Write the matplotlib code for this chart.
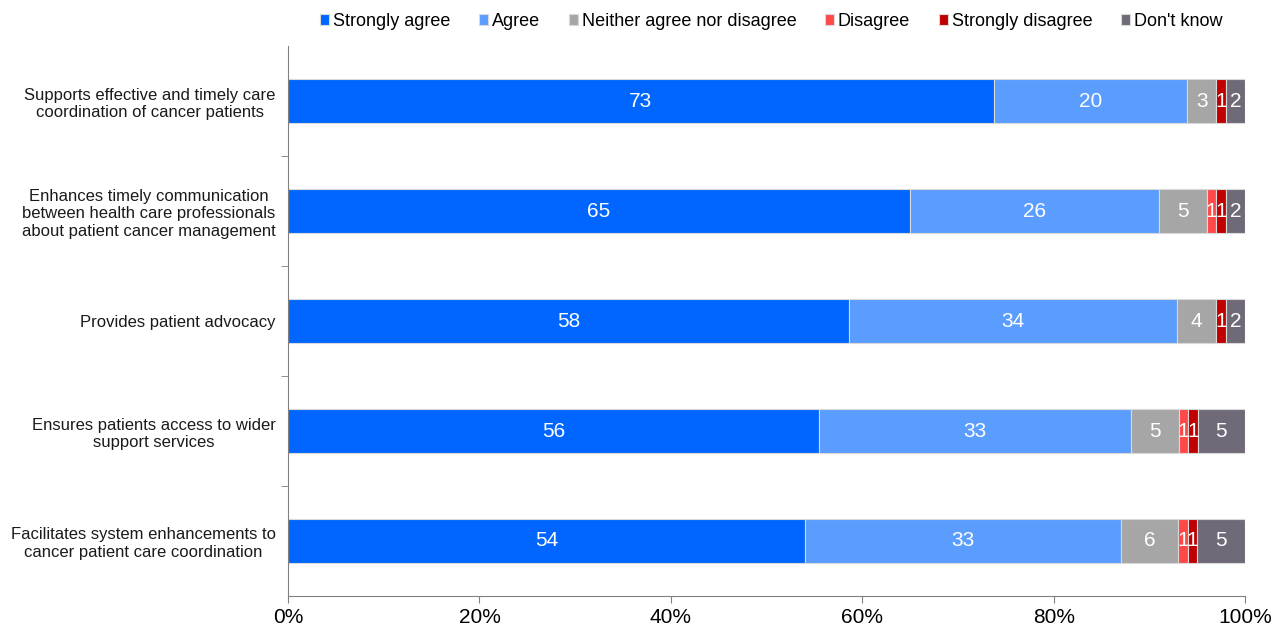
import numpy as np
import matplotlib
matplotlib.use("Agg")
import matplotlib.pyplot as plt

plt.rcParams['font.family'] = ['Liberation Sans', 'DejaVu Sans']

categories = [
    "Supports effective and timely care\ncoordination of cancer patients",
    "Enhances timely communication\nbetween health care professionals\nabout patient cancer management",
    "Provides patient advocacy",
    "Ensures patients access to wider\nsupport services",
    "Facilitates system enhancements to\ncancer patient care coordination",
]
series = ["Strongly agree", "Agree", "Neither agree nor disagree",
          "Disagree", "Strongly disagree", "Don't know"]
strongly_agree = [73, 65, 58, 56, 54]
agree = [20, 26, 34, 33, 33]
neither = [3, 5, 4, 5, 6]
disagree = [0, 1, 0, 1, 1]
strongly_disagree = [1, 1, 1, 1, 1]
dont_know = [2, 2, 2, 5, 5]
colors = ["#0066FF", "#5B9CFF", "#A6A6A6", "#FF4949", "#C00000", "#706A78"]

data = np.array([strongly_agree, agree, neither, disagree,
                 strongly_disagree, dont_know], dtype=float)
totals = data.sum(axis=0)
shares = data / totals * 100

fig, ax = plt.subplots(figsize=(12.83, 6.31), dpi=100)
fig.subplots_adjust(left=0.2245, right=0.9705, top=0.927, bottom=0.0555)

y = np.arange(len(categories))
left = np.zeros(len(categories))
for i, name in enumerate(series):
    ax.barh(y, shares[i], left=left, height=0.4, color=colors[i],
            edgecolor="#D9D9D9", linewidth=0.8, label=name)
    for j in range(len(categories)):
        if data[i, j] > 0:
            ax.text(left[j] + shares[i, j] / 2, y[j], f"{int(data[i, j])}",
                    ha="center", va="center", color="white", fontsize=15)
    left += shares[i]

ax.set_xlim(0, 100)
ax.set_ylim(len(categories) - 0.5, -0.5)
ax.set_xticks(np.arange(0, 101, 20))
ax.set_xticklabels([f"{v}%" for v in range(0, 101, 20)], fontsize=15)
ax.set_yticks(y)
ax.set_yticklabels(categories, fontsize=12, color="#1a1a1a",
                   multialignment="center")
ax.set_yticks(np.arange(0.5, len(categories) - 1), minor=True)
ax.tick_params(axis="y", which="major", length=0, pad=9)
ax.tick_params(axis="y", which="minor", length=5, color="#808080")
ax.tick_params(axis="x", length=5, color="#808080")
for s in ["top", "right"]:
    ax.spines[s].set_visible(False)
for s in ["left", "bottom"]:
    ax.spines[s].set_color("#808080")

ax.legend(loc="upper center", bbox_to_anchor=(0.505, 1.09), ncol=6,
          frameon=False, fontsize=13, handlelength=0.5, handleheight=0.5,
          handletextpad=0.2, columnspacing=1.6)

fig.savefig("out.png", dpi=100)
